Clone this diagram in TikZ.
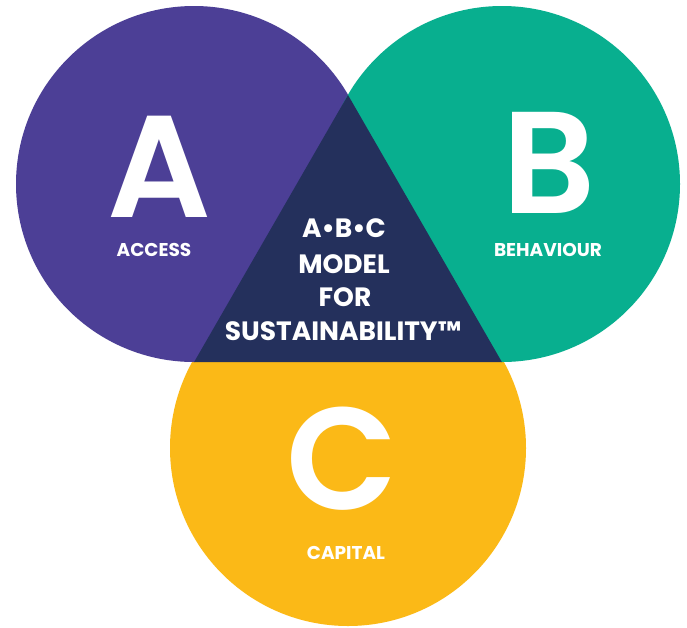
\documentclass[tikz,border=0pt]{standalone}
\usepackage{fontspec}
\setmainfont{Poppins}
\newfontfamily\semibold{Poppins SemiBold}
\definecolor{abcpurple}{HTML}{4C3F96}
\definecolor{abcteal}{HTML}{08AF8F}
\definecolor{abcyellow}{HTML}{FBB917}
\definecolor{abcnavy}{HTML}{24305C}
\tikzset{
  ring/.style={circle,inner sep=0pt,minimum size=356pt},
  bigletter/.style={text=white,anchor=base,inner sep=0pt,font=\semibold\fontsize{145}{145}\selectfont},
  tag/.style={text=white,anchor=base,inner sep=0pt,font=\bfseries\fontsize{18.5}{20}\selectfont},
  title/.style={text=white,anchor=base,inner sep=0pt,font=\bfseries\fontsize{26.5}{30}\selectfont}
}
\begin{document}
\begin{tikzpicture}[x=1pt,y=-1pt]
      \useasboundingbox (0,0) rectangle (687,627);
      \node[ring,fill=abcyellow] (capital) at (348,448) {};
      \node[ring,fill=abcpurple] (access) at (194,184) {};
      \node[ring,fill=abcteal] (behaviour) at (502,184) {};
      \coordinate (apex) at (348,95);
      \fill[abcnavy] (apex) -- (access.south) -- (behaviour.south) -- cycle;
      \draw
        (159,217) node[bigletter] (A){A}
        (549,213) node[bigletter] (B){B}
        (342,509) node[bigletter] (C){C}
        (154,256) node[tag] (accesstag){ACCESS}
        (548,256) node[tag] (behaviourtag){BEHAVIOUR}
        (346,559) node[tag] (capitaltag){CAPITAL};
      \draw
        (344,237) node[title] (abc){A•B•C}
        (344,273) node[title] (model){MODEL}
        (345,306) node[title] (for){FOR}
        (343,340) node[title] (sust){SUSTAINABILITY™};
    \end{tikzpicture}
\end{document}
